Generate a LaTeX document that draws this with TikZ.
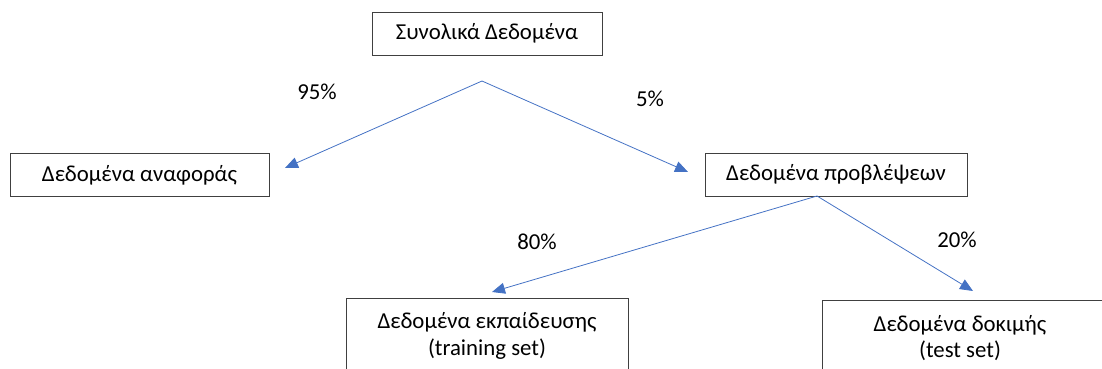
\documentclass[tikz,border=0pt]{standalone}
\usepackage{fontspec}
\setmainfont{Carlito}
\usetikzlibrary{arrows.meta}
\definecolor{arrowblue}{RGB}{68,114,196}
\definecolor{boxline}{RGB}{64,64,64}
\tikzset{
  databox/.style={draw=boxline, line width=0.9pt, minimum height=43pt, inner sep=0pt, font=\fontsize{22.8}{26.5}\selectfont, align=center},
  splitarrow/.style={draw=arrowblue, line width=0.8pt, -{Triangle[length=13pt,width=11pt]}},
  pct/.style={font=\fontsize{22.8}{26}\selectfont, inner sep=0pt}
}
\begin{document}
\begin{tikzpicture}[x=1pt,y=-1pt]
\useasboundingbox (0,0) rectangle (1102,369);
\node[databox, minimum width=230pt] (total) at (487,33.5) {Συνολικά Δεδομένα};
\node[databox, minimum width=259pt] (ref) at (139.5,175) {Δεδομένα αναφοράς};
\node[databox, minimum width=262pt] (pred) at (836,174.5) {Δεδομένα προβλέψεων};
\node[databox, minimum width=282pt, minimum height=76pt] (train) at (487,336) {Δεδομένα εκπαίδευσης\\(training set)};
\node[databox, minimum width=290pt, minimum height=76pt,
  label={[xshift=-7pt, align=center, font=\fontsize{22.8}{26.5}\selectfont]center:Δεδομένα δοκιμής\\(test set)}] (test) at (967,338) {};
\coordinate (apex) at (482,81);
\coordinate (refTip) at (285,168);
\coordinate (predTip) at (688,172);
\coordinate (lowApex) at (817,196);
\coordinate (trainTip) at (492,292);
\coordinate (testTip) at (973,291);
\draw[splitarrow] (apex) -- (refTip);
\draw[splitarrow] (apex) -- (predTip);
\draw[splitarrow] (lowApex) -- (trainTip);
\draw[splitarrow] (lowApex) -- (testTip);
\node[pct] (p95) at (317,92) {95\%};
\node[pct] (p5) at (650,99) {5\%};
\node[pct] (p80) at (537,242) {80\%};
\node[pct] (p20) at (957,240) {20\%};
\end{tikzpicture}
\end{document}
